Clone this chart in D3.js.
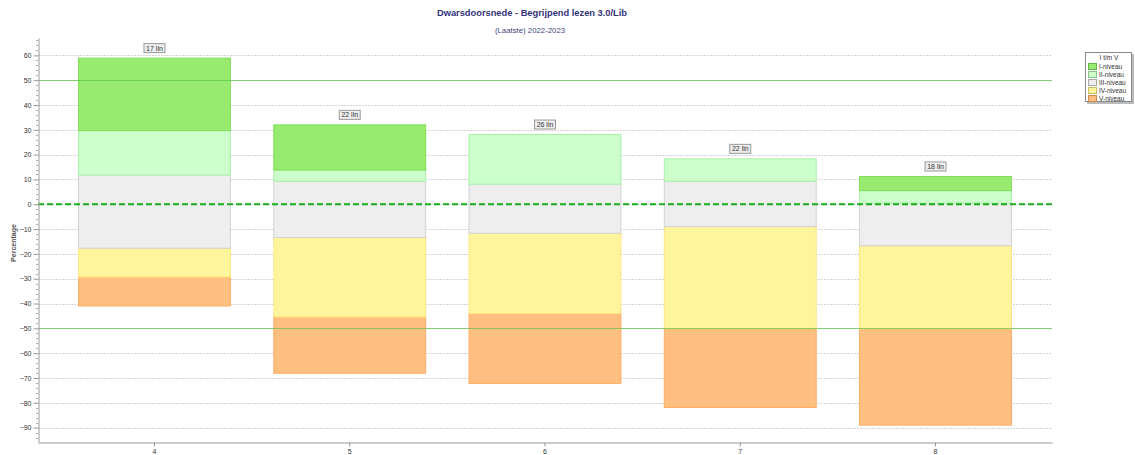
<!DOCTYPE html>
<html>
<head>
<meta charset="utf-8">
<script src="https://cdn.jsdelivr.net/npm/d3@7"></script>
<style>
  body { margin: 0; background: #fff; }
  svg { display: block; font-family: "Liberation Sans", Arial, sans-serif; }
</style>
</head>
<body>
<svg id="chart" width="1135" height="455"></svg>
<script>
// data
var categories = ['4', '5', '6', '7', '8'];
var levels = ['I-niveau', 'II-niveau', 'III-niveau', 'IV-niveau', 'V-niveau'];
var pupils = [17, 22, 26, 22, 18];
// percentage of pupils per level (V at the bottom, I on top)
var levelI = [29.2, 18.2, 0, 0, 5.7];
var levelII = [17.9, 4.5, 20.0, 9.0, 5.1];
var levelIII = [29.5, 22.7, 19.8, 18.3, 17.1];
var levelIV = [11.6, 32.0, 32.3, 41.1, 33.4];
var levelV = [11.7, 22.7, 28.2, 31.8, 38.9];
// where the V-part starts on the axis
var bottoms = [-41.0, -68.1, -72.2, -81.9, -89.0];
var yTicks = [60, 50, 40, 30, 20, 10, 0, -10, -20, -30, -40, -50, -60, -70, -80, -90];
var refLines = [50, -50];

var fills = ['#98eb70', '#ccffcc', '#eeeeee', '#fff59d', '#ffbf80'];
var strokes = ['#80df58', '#a9f2a9', '#d2d2d2', '#ffe680', '#ffad66'];

var svg = d3.select('#chart'),
    margin = {top: 38, right: 83, bottom: 13, left: 38},
    width = +svg.attr('width') - margin.left - margin.right,
    height = +svg.attr('height') - margin.top - margin.bottom;

var x = d3.scaleBand()
    .domain(categories)
    .range([margin.left, margin.left + width])
    .paddingInner(0.217)
    .paddingOuter(0.205);

var y = d3.scaleLinear()
    .domain([-95.8, 67])
    .range([margin.top + height, margin.top]);

// title
svg.append('text')
    .attr('x', 532).attr('y', 16)
    .attr('text-anchor', 'middle')
    .attr('font-size', 9.3).attr('font-weight', 'bold')
    .attr('fill', '#33337a')
    .text('Dwarsdoorsnede - Begrijpend lezen 3.0/Lib');
svg.append('text')
    .attr('x', 530).attr('y', 33)
    .attr('text-anchor', 'middle')
    .attr('font-size', 7.8)
    .attr('fill', '#44447a')
    .text('(Laatste) 2022-2023');

// grid
svg.append('g')
    .selectAll('line')
    .data(yTicks)
    .enter().append('line')
    .attr('x1', margin.left).attr('x2', margin.left + width)
    .attr('y1', function (d) { return Math.round(y(d)) + 0.5; })
    .attr('y2', function (d) { return Math.round(y(d)) + 0.5; })
    .attr('stroke', '#d4d4d4')
    .attr('stroke-dasharray', '2,1');

// stacked bars
var series = [levelV, levelIV, levelIII, levelII, levelI];
var segs = [];
categories.forEach(function (c, i) {
  var base = bottoms[i];
  series.forEach(function (s, k) {
    var lvl = 4 - k;
    if (s[i] > 0) {
      segs.push({cat: c, lvl: lvl, y0: base, y1: base + s[i]});
    }
    base += s[i];
  });
});

svg.append('g')
    .selectAll('rect')
    .data(segs)
    .enter().append('rect')
    .attr('x', function (d) { return x(d.cat) + 0.5; })
    .attr('width', x.bandwidth() - 1)
    .attr('y', function (d) { return y(d.y1); })
    .attr('height', function (d) { return y(d.y0) - y(d.y1); })
    .attr('fill', function (d) { return fills[d.lvl]; })
    .attr('stroke', function (d) { return strokes[d.lvl]; })
    .attr('stroke-width', 1);

// reference lines on top of the bars
svg.append('g')
    .selectAll('line')
    .data(refLines)
    .enter().append('line')
    .attr('x1', margin.left).attr('x2', margin.left + width)
    .attr('y1', function (d) { return Math.round(y(d)) + 0.5; })
    .attr('y2', function (d) { return Math.round(y(d)) + 0.5; })
    .attr('stroke', '#55c040')
    .attr('stroke-opacity', 0.65);

svg.append('line')
    .attr('x1', margin.left).attr('x2', margin.left + width)
    .attr('y1', y(0)).attr('y2', y(0))
    .attr('stroke', '#1eaa1e')
    .attr('stroke-width', 2)
    .attr('stroke-dasharray', '6,3');

// pupil count labels
var tops = categories.map(function (c, i) {
  return bottoms[i] + levelI[i] + levelII[i] + levelIII[i] + levelIV[i] + levelV[i];
});
var lab = svg.append('g').selectAll('g')
    .data(categories)
    .enter().append('g')
    .attr('transform', function (d, i) {
      return 'translate(' + (x(d) + x.bandwidth() / 2) + ',' + (y(tops[i]) - 10) + ')';
    });
lab.append('rect')
    .attr('x', -10.5).attr('y', -4.5)
    .attr('width', 21).attr('height', 9)
    .attr('fill', '#eeeeee')
    .attr('stroke', '#999');
lab.append('text')
    .attr('text-anchor', 'middle')
    .attr('y', 2.5)
    .attr('font-size', 7)
    .attr('fill', '#333')
    .text(function (d, i) { return pupils[i] + ' lln'; });

// y axis
var yAxis = d3.axisLeft(y).tickValues(yTicks).tickSize(5).tickSizeOuter(0).tickPadding(2);
var gy = svg.append('g')
    .attr('transform', 'translate(' + (margin.left + 0.5) + ',0)')
    .call(yAxis);
gy.select('.domain').attr('stroke', '#999');
gy.selectAll('.tick line').attr('stroke', '#999');
gy.selectAll('.tick text').attr('font-size', 7).attr('fill', '#333')
    .attr('font-family', '"Liberation Sans", Arial, sans-serif');

var minor = d3.range(-94, 67, 2).filter(function (v) { return v % 10 !== 0; });
svg.append('g')
    .selectAll('line')
    .data(minor)
    .enter().append('line')
    .attr('x1', margin.left - 2).attr('x2', margin.left)
    .attr('y1', function (d) { return Math.round(y(d)) + 0.5; })
    .attr('y2', function (d) { return Math.round(y(d)) + 0.5; })
    .attr('stroke', '#aaa');

svg.append('text')
    .attr('transform', 'rotate(-90)')
    .attr('x', -(margin.top + height / 2) - 3).attr('y', 16)
    .attr('text-anchor', 'middle')
    .attr('font-size', 7).attr('font-weight', 'bold')
    .attr('fill', '#555')
    .text('Percentage');

// x axis
var xAxis = d3.axisBottom(x).tickSize(4).tickSizeOuter(0).tickPadding(3);
var gx = svg.append('g')
    .attr('transform', 'translate(0,' + (margin.top + height + 0.5) + ')')
    .call(xAxis);
gx.select('.domain').attr('stroke', '#999');
gx.selectAll('.tick line').attr('stroke', '#999');
gx.selectAll('.tick text').attr('font-size', 7).attr('fill', '#333')
    .attr('font-family', '"Liberation Sans", Arial, sans-serif');

// legend
var lg = svg.append('g').attr('transform', 'translate(1085,52)');
lg.append('rect').attr('x', 2).attr('y', 2).attr('width', 47).attr('height', 50).attr('fill', '#bbb');
lg.append('rect').attr('x', 0.5).attr('y', 0.5).attr('width', 46).attr('height', 49)
    .attr('fill', '#fff').attr('stroke', '#888');
lg.append('text').attr('x', 24).attr('y', 8).attr('text-anchor', 'middle')
    .attr('font-size', 6.5).attr('fill', '#333').text('I t/m V');
var li = lg.selectAll('.item')
    .data(levels)
    .enter().append('g')
    .attr('class', 'item')
    .attr('transform', function (d, i) { return 'translate(3,' + (11 + i * 8) + ')'; });
li.append('rect')
    .attr('x', 0.5).attr('y', 0.5).attr('width', 8).attr('height', 6)
    .attr('fill', function (d, i) { return fills[i]; })
    .attr('stroke', function (d, i) { return d3.color(strokes[i]).darker(0.6); });
li.append('text')
    .attr('x', 11).attr('y', 6)
    .attr('font-size', 6.5).attr('fill', '#333')
    .text(function (d) { return d; });
</script>
</body>
</html>
